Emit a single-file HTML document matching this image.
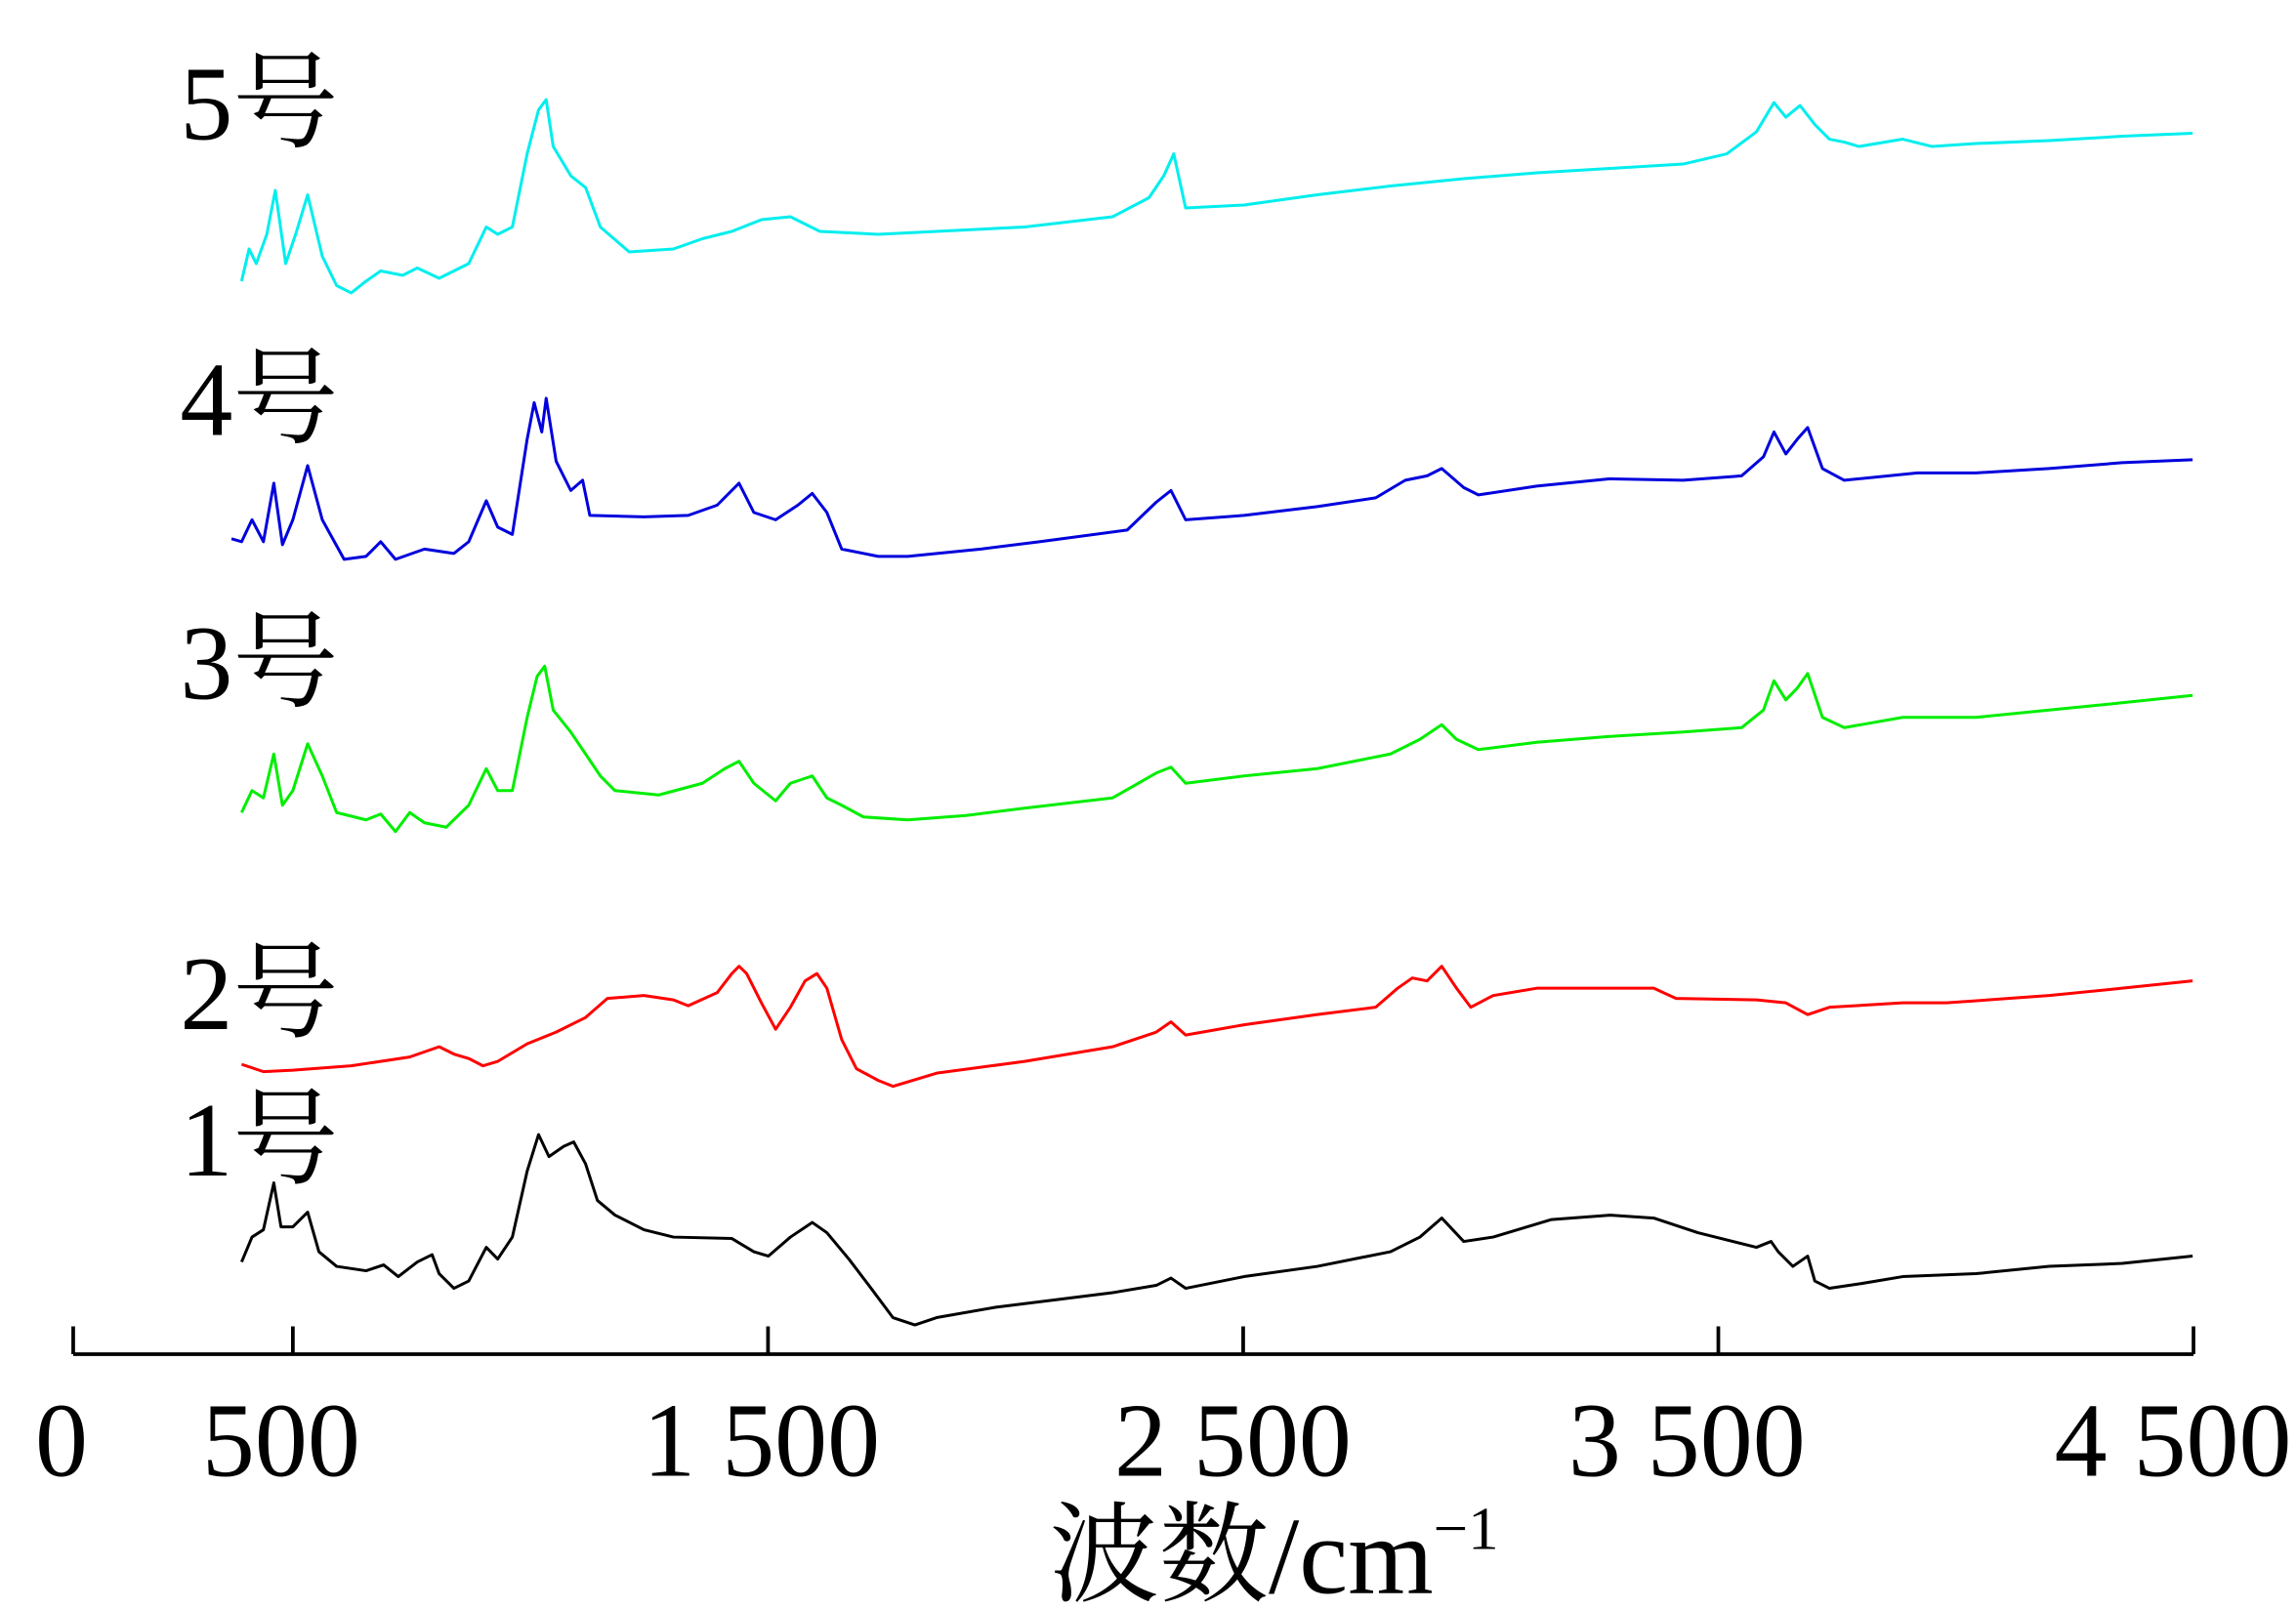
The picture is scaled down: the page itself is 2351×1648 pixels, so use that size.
<!DOCTYPE html>
<html><head><meta charset="utf-8">
<style>
html,body{margin:0;padding:0;background:#fff;}
svg{display:block;}
.lbl{font-family:"Liberation Serif","Noto Serif CJK SC",serif;font-size:72px;fill:#000;}
</style></head>
<body>
<svg id="chart" width="2351" height="1648" viewBox="0 0 1568 1099" xmlns="http://www.w3.org/2000/svg">
<g id="axis"></g>
<g id="series"></g>
<g id="labels"></g>
<text class="lbl" x="870" y="1088" text-anchor="middle" style="font-size:75px">波数/cm<tspan dy="-30" font-size="42">−1</tspan></text>
</svg>
<script>
const tickValues = [0, 500, 1500, 2500, 3500, 4500];
const tickLabels = ["0", "500", "1 500", "2 500", "3 500", "4 500"];
const seriesNames = ["1号", "2号", "3号", "4号", "5号"];
const seriesColors = ["#000000", "#ff0000", "#00ee00", "#0000dd", "#00eeee"];

const s1_wn = [392,414,438,460,475,500,531,555,592,654,691,722,762,793,808,839,870,907,931,962,993,1017,1039,1070,1091,1116,1141,1178,1239,1301,1424,1470,1501,1547,1593,1624,1670,1717,1763,1809,1855,1978,2102,2225,2317,2348,2379,2502,2656,2810,2872,2918,2964,3026,3149,3272,3364,3457,3580,3611,3626,3657,3688,3703,3734,3796,3888,4042,4196,4350,4498];
const s1_int = [78,95,100,132,102,102,112,85,75,72,76,68,78,83,70,60,65,88,80,95,140,165,150,157,160,145,120,110,100,95,94,85,82,95,105,98,80,60,40,35,40,47,52,57,62,67,60,68,75,85,95,108,92,95,107,110,108,98,88,92,85,75,82,65,60,63,68,70,75,77,82];

const s2_wn = [392,438,500,623,746,808,839,870,900,931,993,1054,1116,1162,1239,1301,1332,1393,1424,1439,1455,1486,1516,1547,1578,1603,1624,1655,1686,1732,1763,1855,2040,2225,2317,2348,2379,2502,2656,2779,2825,2856,2887,2918,2949,2979,3026,3118,3364,3411,3580,3642,3688,3734,3888,3980,4196,4350,4498];
const s2_int = [213,208,209,212,218,225,220,217,212,215,227,235,245,258,260,257,253,262,275,280,275,255,237,252,270,275,265,230,210,202,198,207,215,225,235,242,233,240,247,252,265,272,270,280,265,252,260,265,265,258,257,255,247,252,255,255,260,265,270];

const s3_wn = [392,414,438,460,478,500,531,562,592,654,685,716,746,777,823,870,907,931,962,993,1014,1030,1048,1085,1116,1147,1178,1270,1362,1409,1439,1470,1516,1547,1593,1624,1655,1701,1794,1917,2040,2225,2317,2348,2379,2502,2656,2810,2872,2918,2949,2995,3118,3272,3426,3549,3595,3617,3642,3666,3688,3719,3765,3888,4042,4196,4350,4498];
const s3_int = [385,400,395,425,390,400,432,410,385,380,384,372,385,378,375,390,415,400,400,450,478,485,455,440,425,410,400,397,405,415,420,405,393,405,410,395,390,382,380,383,388,395,412,416,405,410,415,425,435,445,435,428,433,437,440,443,455,475,462,470,480,450,443,450,450,455,460,465];

const s4_wn = [371,392,414,438,460,478,500,531,562,608,654,685,716,777,839,870,907,931,962,993,1008,1024,1033,1054,1085,1110,1125,1239,1332,1393,1439,1470,1516,1563,1593,1624,1655,1732,1794,1948,2071,2256,2317,2348,2379,2502,2656,2779,2841,2887,2918,2964,2995,3118,3272,3426,3549,3595,3617,3642,3666,3688,3719,3765,3919,4042,4196,4350,4498];
const s4_int = [572,570,585,570,610,568,585,622,585,558,560,570,558,565,562,570,598,580,575,640,665,645,668,625,605,612,588,587,588,595,610,590,585,595,603,590,565,560,560,565,570,578,597,605,585,588,594,600,612,615,620,607,602,608,613,612,615,628,645,630,640,648,620,612,617,617,620,624,626];

const s5_wn = [392,408,423,445,463,485,506,531,562,592,623,654,685,731,762,808,839,870,907,931,962,993,1017,1033,1048,1085,1116,1147,1208,1301,1362,1424,1486,1547,1609,1732,1855,2040,2225,2302,2333,2354,2379,2502,2656,2810,2964,3118,3272,3426,3518,3580,3617,3642,3672,3703,3734,3765,3796,3888,3950,4042,4196,4350,4498];
const s5_int = [748,770,760,780,810,760,780,807,765,745,740,748,755,752,757,750,755,760,785,780,785,835,865,872,840,820,812,785,768,770,777,782,790,792,782,780,782,785,792,805,820,835,798,800,807,813,818,822,825,828,835,850,870,860,868,855,845,843,840,845,840,842,844,847,849];

const labelY = [803, 703, 477, 297, 95];

function xScale(w){ return 200 + (w - 500) * 0.3245; }
function yScale(v){ return 940 - v; }

const NS = "http://www.w3.org/2000/svg";
const axis = document.getElementById('axis');
const base = document.createElementNS(NS, 'line');


base.setAttribute('x1', 50); base.setAttribute('x2', xScale(4500));
base.setAttribute('y1', 925); base.setAttribute('y2', 925);
base.setAttribute('stroke', '#000'); base.setAttribute('stroke-width', 2.5);
axis.appendChild(base);
const tickLabelX = [42, 192, 520, 842, 1152, 1484];
tickValues.forEach((t, i) => {
  const tx = t === 0 ? 50 : xScale(t);
  const tk = document.createElementNS(NS, 'line');
  
  
  tk.setAttribute('x1', tx); tk.setAttribute('x2', tx);
  tk.setAttribute('y1', 925); tk.setAttribute('y2', 906);
  tk.setAttribute('stroke', '#000'); tk.setAttribute('stroke-width', 2.5);
  axis.appendChild(tk);
  const tl = document.createElementNS(NS, 'text');
  
  
  tl.setAttribute('class', 'lbl');
  tl.setAttribute('x', tickLabelX[i]); tl.setAttribute('y', 1008);
  tl.setAttribute('text-anchor', 'middle');
  tl.textContent = tickLabels[i];
  axis.appendChild(tl);
});

const allWn = [s1_wn, s2_wn, s3_wn, s4_wn, s5_wn];
const allInt = [s1_int, s2_int, s3_int, s4_int, s5_int];
const sg = document.getElementById('series');
const lg = document.getElementById('labels');
allWn.forEach((wn, s) => {
  const d = wn.map((w, i) => (i ? 'L' : 'M') + xScale(w).toFixed(1) + ' ' + yScale(allInt[s][i]).toFixed(1)).join(' ');
  const p = document.createElementNS(NS, 'path');
  
  
  p.setAttribute('d', d);
  p.setAttribute('fill', 'none');
  p.setAttribute('stroke', seriesColors[s]);
  p.setAttribute('stroke-width', 2);
  p.setAttribute('stroke-linejoin', 'round');
  sg.appendChild(p);
  const t = document.createElementNS(NS, 'text');
  
  
  t.setAttribute('class', 'lbl');
  t.setAttribute('x', 123); t.setAttribute('y', labelY[s]);
  t.textContent = seriesNames[s];
  lg.appendChild(t);
});
</script>
</body></html>
